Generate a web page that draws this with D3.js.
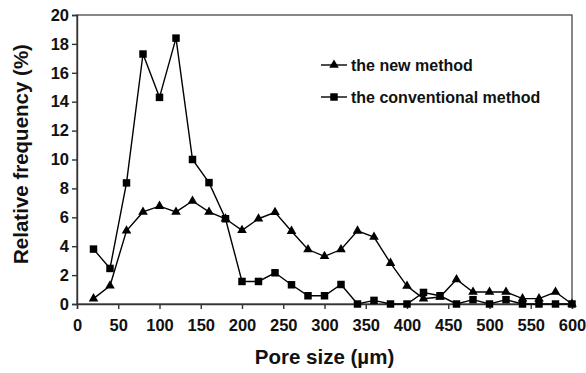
<!DOCTYPE html>
<html>
<head>
<meta charset="utf-8">
<script src="https://cdn.jsdelivr.net/npm/d3@7"></script>
<style>
  body { margin: 0; background: #fff; }
  #chart { width: 586px; height: 373px; }
  text { font-family: "Liberation Sans", Arial, sans-serif; font-weight: bold; fill: #111; }
</style>
</head>
<body>
<div id="chart"></div>
<script>
// pore size classes (µm)
const poreSizes = [20, 40, 60, 80, 100, 120, 140, 160, 180, 200, 220, 240, 260, 280, 300,
  320, 340, 360, 380, 400, 420, 440, 460, 480, 500, 520, 540, 560, 580, 600];

const newMethod = [0.37, 1.26, 5.07, 6.37, 6.77, 6.37, 7.13, 6.37, 5.9, 5.1, 5.9, 6.35, 5.04, 3.77, 3.3,
  3.77, 5.06, 4.63, 2.83, 1.24, 0.37, 0.48, 1.7, 0.83, 0.83, 0.83, 0.37, 0.37, 0.83, 0];

const conventional = [3.8, 2.46, 8.38, 17.3, 14.3, 18.4, 10.0, 8.4, 5.9, 1.56, 1.56, 2.16, 1.33, 0.57, 0.57,
  1.35, 0, 0.25, 0, 0, 0.8, 0.57, 0, 0.3, 0, 0.3, 0, 0, 0, 0];

const xTicks = [0, 50, 100, 150, 200, 250, 300, 350, 400, 450, 500, 550, 600];
const yTicks = [0, 2, 4, 6, 8, 10, 12, 14, 16, 18, 20];

const seriesNames = ["the new method", "the conventional method"];

const width = 586, height = 373;
const margin = { top: 15, right: 14, bottom: 69, left: 77 };

const svg = d3.select("#chart").append("svg")
  .attr("width", width)
  .attr("height", height);

const x = d3.scaleLinear().domain([0, 600]).range([margin.left, width - margin.right]);
const y = d3.scaleLinear().domain([0, 20]).range([height - margin.bottom, margin.top]);

// cadre
svg.append("rect")
  .attr("x", x(0)).attr("y", y(20))
  .attr("width", x(600) - x(0)).attr("height", y(0) - y(20))
  .attr("fill", "none").attr("stroke", "#555").attr("stroke-width", 1.4);

// axe X
const gx = svg.append("g")
  .attr("transform", `translate(0,${y(0)})`)
  .call(d3.axisBottom(x).tickValues(xTicks).tickSize(5).tickPadding(10));
gx.selectAll("text").style("font-size", "16.5px");

// axe Y
const gy = svg.append("g")
  .attr("transform", `translate(${x(0)},0)`)
  .call(d3.axisLeft(y).tickValues(yTicks).tickSize(5).tickPadding(3));
gy.selectAll("text").style("font-size", "16.5px");

svg.selectAll(".domain, .tick line").attr("stroke", "#333").attr("stroke-width", 1.4);

// titres des axes
svg.append("text")
  .attr("x", (x(0) + x(600)) / 2)
  .attr("y", 364)
  .attr("text-anchor", "middle")
  .style("font-size", "20.5px")
  .text("Pore size (µm)");

svg.append("text")
  .attr("transform", `translate(28,154) rotate(-90)`)
  .attr("text-anchor", "middle")
  .style("font-size", "20.5px")
  .text("Relative frequency (%)");

const line = d3.line()
  .x((d, i) => x(poreSizes[i]))
  .y(d => y(d));

const triangle = d3.symbol().type(d3.symbolTriangle).size(40);
const square = d3.symbol().type(d3.symbolSquare).size(56);

function drawSeries(values, symbol) {
  svg.append("path")
    .datum(values)
    .attr("fill", "none")
    .attr("stroke", "#000")
    .attr("stroke-width", 1.4)
    .attr("d", line);
  svg.append("g").selectAll("path")
    .data(values)
    .join("path")
    .attr("transform", (d, i) => `translate(${x(poreSizes[i])},${y(d)})`)
    .attr("d", symbol)
    .attr("fill", "#000");
}

drawSeries(newMethod, triangle);
drawSeries(conventional, square);

// légende
const legend = svg.append("g").attr("transform", "translate(321,65)");
[triangle, square].forEach((sym, i) => {
  const g = legend.append("g").attr("transform", `translate(0,${i * 32})`);
  g.append("line").attr("x1", 0).attr("x2", 26).attr("y1", 0).attr("y2", 0)
    .attr("stroke", "#000").attr("stroke-width", 1.4);
  g.append("path").attr("transform", "translate(13,0)").attr("d", sym).attr("fill", "#000");
  g.append("text").attr("x", 30).attr("y", 5.5).style("font-size", "16px").text(seriesNames[i]);
});
</script>
</body>
</html>
